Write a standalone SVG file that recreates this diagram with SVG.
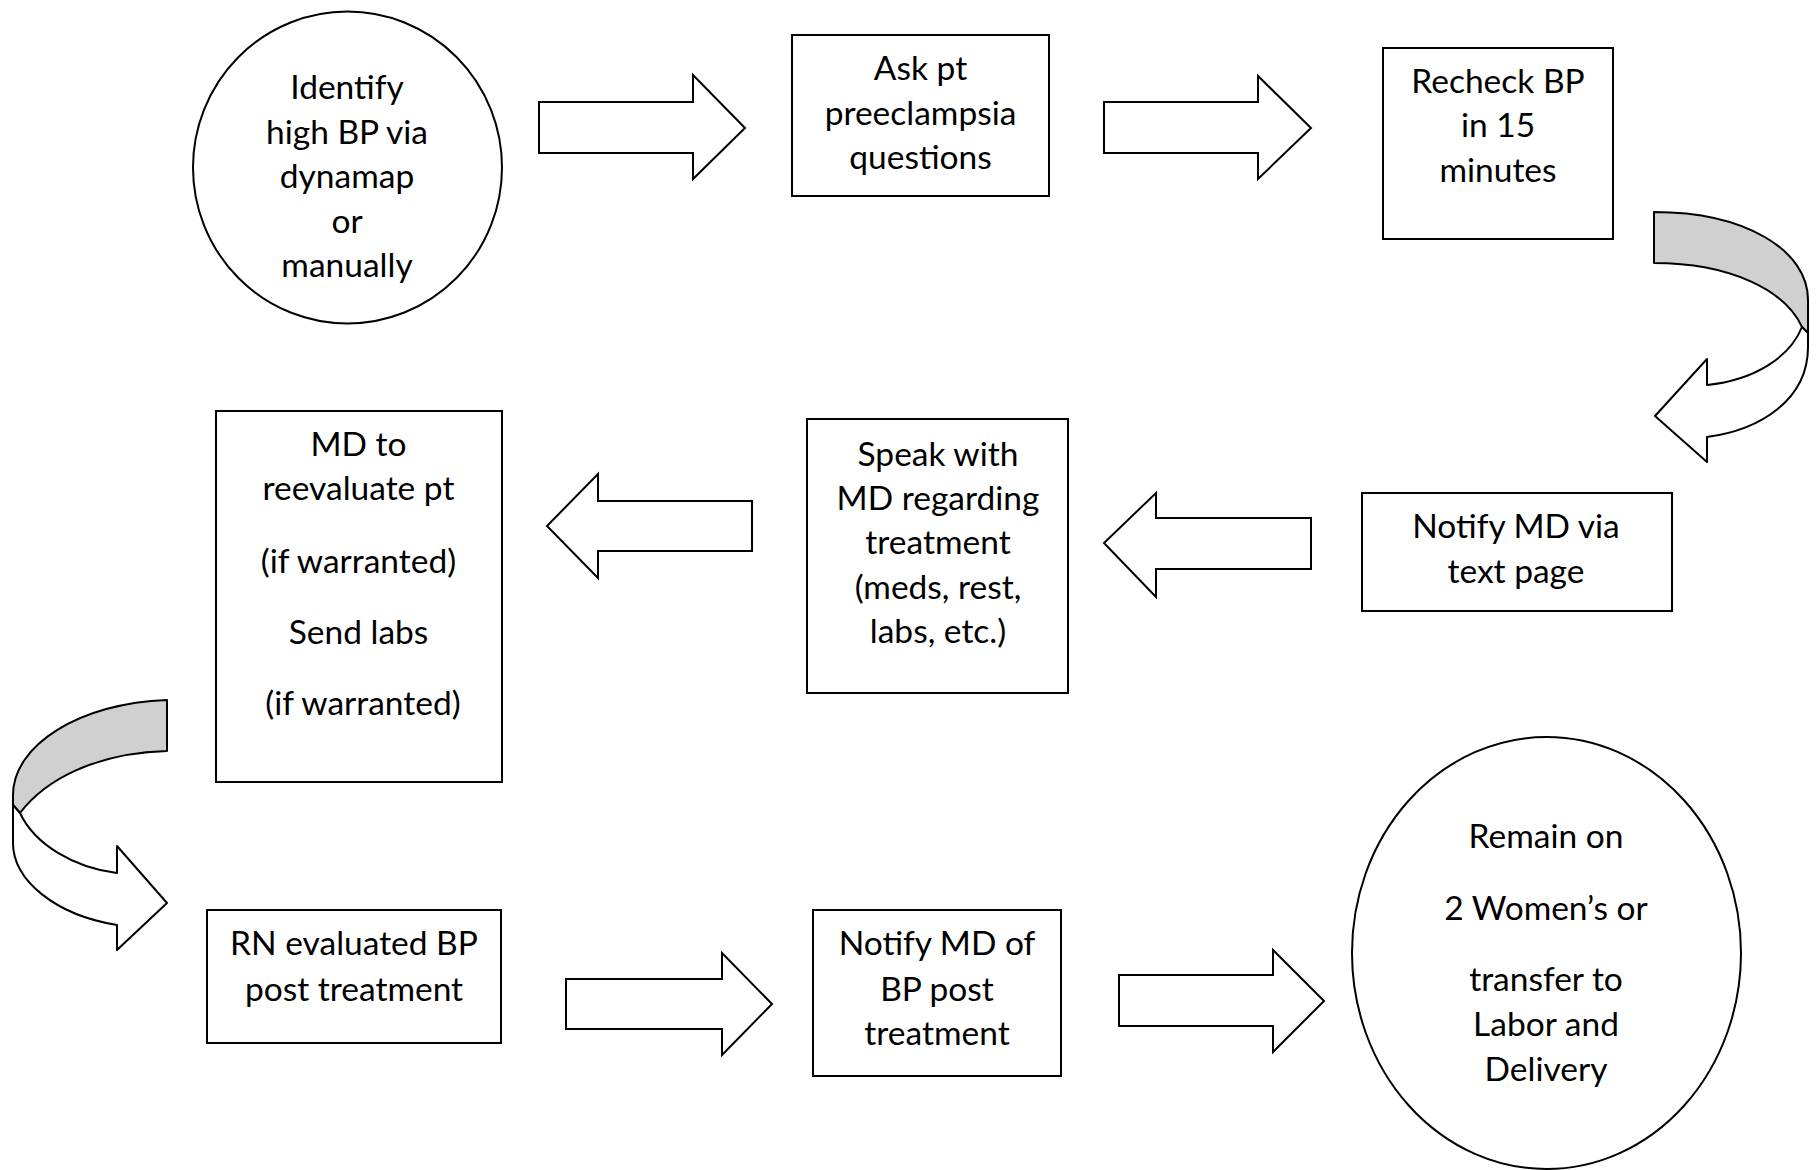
<svg xmlns="http://www.w3.org/2000/svg" width="1820" height="1170" viewBox="0 0 1820 1170">
<style>
.shape{fill:#ffffff;stroke:#000000;stroke-width:2;stroke-linejoin:miter}
.grey{fill:#d0d0d0;stroke:#000000;stroke-width:2;stroke-linejoin:round}
.wht{fill:#ffffff;stroke:#000000;stroke-width:2;stroke-linejoin:round}
text{font-family:Lato,"Open Sans","Liberation Sans",sans-serif;font-size:33.5px;fill:#000000;text-anchor:middle}
</style>
<rect x="0" y="0" width="1820" height="1170" fill="#ffffff"/>
<g id="connectors">
  <polygon class="shape" points="539,102 693,102 693,75 745,128 693,179 693,153 539,153"/>
  <polygon class="shape" points="1104,102 1258,102 1258,76 1311,128 1258,179 1258,153 1104,153"/>
  <g id="curve-right">
    <path class="grey" d="M1654,212 C1745,212 1808,250 1808,300 L1808,333 L1802,327 C1785,290 1730,263 1654,263 Z"/>
    <path class="wht" d="M1802,327 C1790,357 1755,380 1707,385 L1707,359 L1655,416 L1707,462 L1707,437 C1760,430 1808,400 1808,347 L1808,333 Z"/>
  </g>
  <polygon class="shape" points="1311,518 1156,518 1156,493 1104,543 1156,597 1156,569 1311,569"/>
  <polygon class="shape" points="752,501 598,501 598,474 547,526 598,578 598,551 752,551"/>
  <g id="curve-left">
    <path class="grey" d="M167,700 C80,703 13,745 13,795 L13,805 L20,813 C45,780 95,753 167,751 Z"/>
    <path class="wht" d="M20,813 C35,845 75,868 117,873 L117,846 L167,903 L117,950 L117,925 C55,915 13,880 13,843 L13,805 Z"/>
  </g>
  <polygon class="shape" points="566,979 722,979 722,953 772,1004 722,1055 722,1029 566,1029"/>
  <polygon class="shape" points="1119,975 1273,975 1273,950 1324,1001 1273,1052 1273,1026 1119,1026"/>
</g>
<g id="n1">
  <ellipse class="shape" cx="347.5" cy="167.5" rx="154.5" ry="156"/>
  <text x="347" y="99">Identify</text>
  <text x="347" y="143.5">high BP via</text>
  <text x="347" y="188">dynamap</text>
  <text x="347" y="232.5">or</text>
  <text x="347" y="277">manually</text>
</g>
<g id="n2">
  <rect class="shape" x="792" y="35" width="257" height="161"/>
  <text x="920.5" y="80">Ask pt</text>
  <text x="920.5" y="124.5">preeclampsia</text>
  <text x="920.5" y="169">questions</text>
</g>
<g id="n3">
  <rect class="shape" x="1383" y="48" width="230" height="191"/>
  <text x="1498" y="92.5">Recheck BP</text>
  <text x="1498" y="137">in 15</text>
  <text x="1498" y="181.5">minutes</text>
</g>
<g id="n4">
  <rect class="shape" x="1362" y="493" width="310" height="118"/>
  <text x="1516" y="538">Notify MD via</text>
  <text x="1516" y="583">text page</text>
</g>
<g id="n5">
  <rect class="shape" x="807" y="419" width="261" height="274"/>
  <text x="938" y="465.5">Speak with</text>
  <text x="938" y="509.5">MD regarding</text>
  <text x="938" y="554">treatment</text>
  <text x="938" y="598.5">(meds, rest,</text>
  <text x="938" y="643">labs, etc.)</text>
</g>
<g id="n6">
  <rect class="shape" x="216" y="411" width="286" height="371"/>
  <text x="358.5" y="456">MD to</text>
  <text x="358.5" y="500">reevaluate pt</text>
  <text x="358.5" y="573">(if warranted)</text>
  <text x="358.5" y="644">Send labs</text>
  <text x="363" y="715">(if warranted)</text>
</g>
<g id="n7">
  <rect class="shape" x="207" y="910" width="294" height="133"/>
  <text x="354" y="955">RN evaluated BP</text>
  <text x="354" y="1000.5">post treatment</text>
</g>
<g id="n8">
  <rect class="shape" x="813" y="910" width="248" height="166"/>
  <text x="937" y="955">Notify MD of</text>
  <text x="937" y="1000.5">BP post</text>
  <text x="937" y="1044.5">treatment</text>
</g>
<g id="n9">
  <ellipse class="shape" cx="1546.5" cy="953" rx="194.5" ry="216"/>
  <text x="1546" y="848">Remain on</text>
  <text x="1546" y="920">2 Women’s or</text>
  <text x="1546" y="991">transfer to</text>
  <text x="1546" y="1036">Labor and</text>
  <text x="1546" y="1080.5">Delivery</text>
</g>
</svg>
